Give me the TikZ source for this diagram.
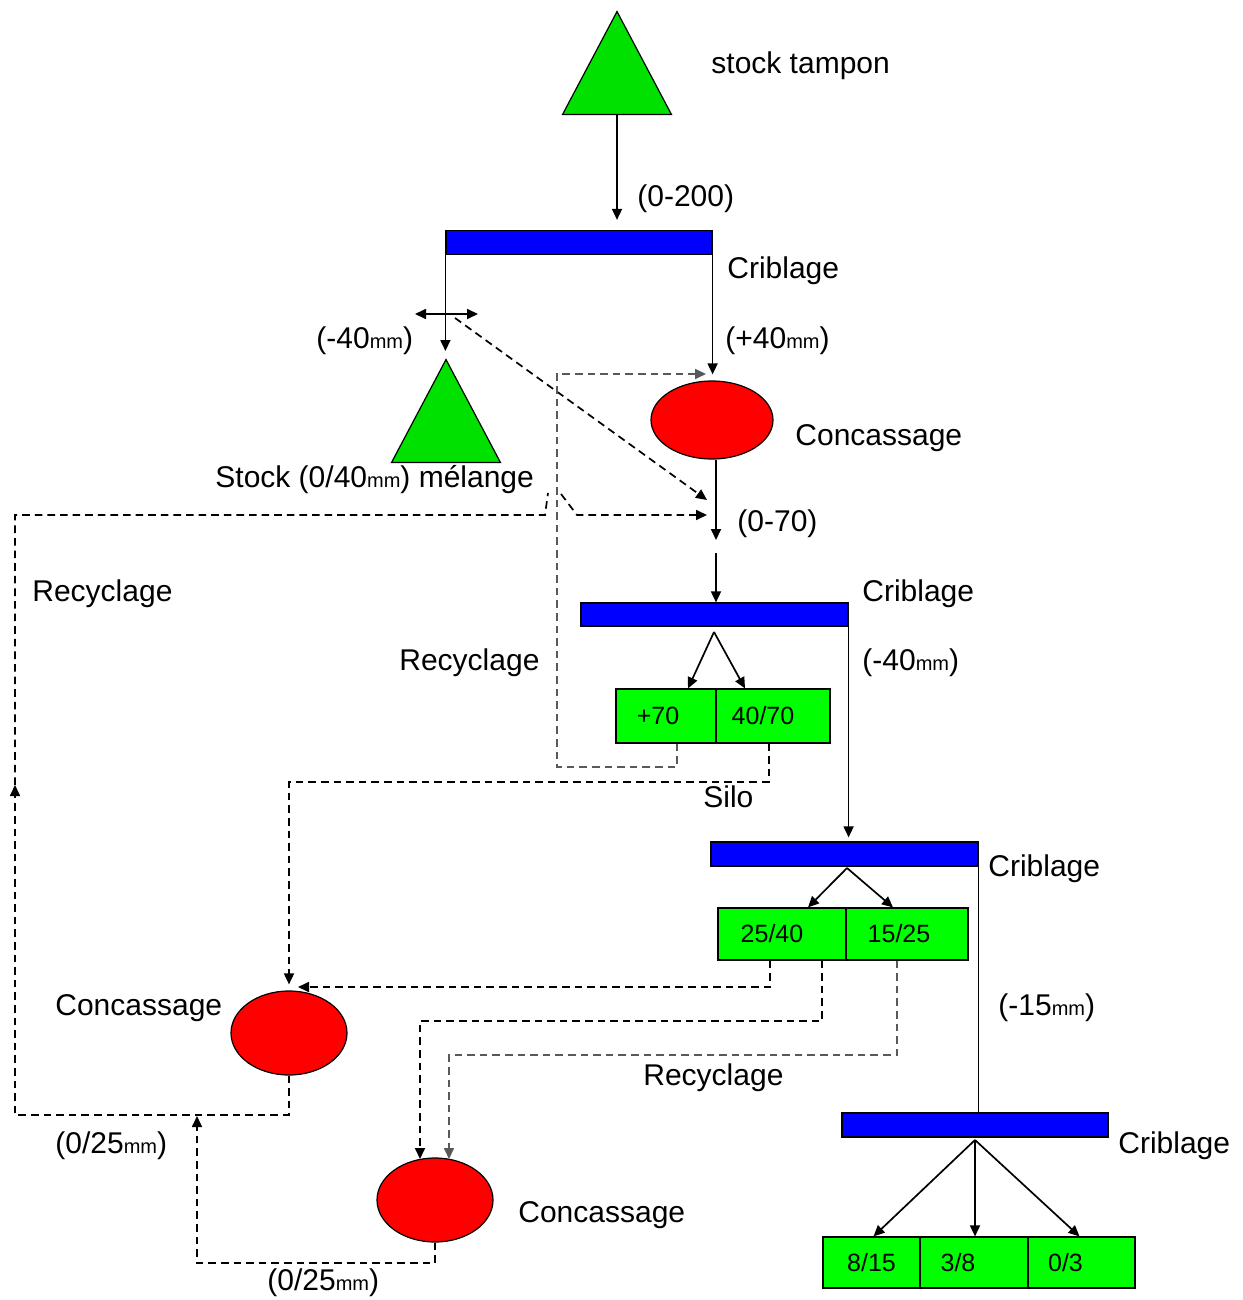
\documentclass[tikz,border=0pt]{standalone}
\usepackage{fontspec}
\setmainfont{Liberation Sans}
\usetikzlibrary{shapes.geometric,arrows.meta,calc}
\definecolor{tgreen}{RGB}{0,225,0}
\definecolor{bgreen}{RGB}{0,255,0}
\definecolor{bblue}{RGB}{0,0,255}
\definecolor{ered}{RGB}{255,0,0}
\newcommand\smm{{\fontsize{10}{10}\selectfont mm}}
\begin{document}
\begin{tikzpicture}[x=0.5pt,y=-0.5pt,
 tri/.style={isosceles triangle, isosceles triangle stretches, shape border rotate=90, draw, fill=tgreen, minimum width=54.5pt, minimum height=51.5pt, inner sep=0pt, line width=0.6pt},
 bar/.style={rectangle, draw, fill=bblue, minimum width=133pt, minimum height=12pt, inner sep=0pt, line width=0.6pt},
 ell/.style={ellipse, draw, fill=ered, inner sep=0pt, line width=0.6pt},
 box/.style={rectangle, draw, fill=bgreen, inner sep=0pt, line width=0.6pt, font=\fontsize{12.5}{13}\selectfont},
 lbl/.style={anchor=mid west, inner sep=0pt, yshift=-2.5pt, font=\fontsize{15}{16}\selectfont},
 tip/.style={-{Triangle[length=5.5pt,width=5pt]}},
 flow/.style={draw, line width=0.85pt, tip},
 dsh/.style={draw, line width=0.85pt, dash pattern=on 3.8pt off 2.5pt},
 dshg/.style={dsh, draw=black!65},
]
\useasboundingbox (0,0) rectangle (1242,1300);

% ---- nodes ----
\node[tri, anchor=apex] (t1) at (617,10) {};
\node[tri, anchor=apex] (t2) at (446,358) {};
\node[bar] (bar1) at (579,242.5) {};
\node[bar, minimum width=133.5pt, minimum height=11.5pt] (bar2) at (714.5,614.5) {};
\node[bar, minimum width=133.5pt] (bar3) at (844.5,854) {};
\node[bar] (bar4) at (975,1125) {};
\node[ell, minimum width=61pt, minimum height=39pt] (e1) at (712,420) {};
\node[ell, minimum width=58pt, minimum height=42pt] (e2) at (289,1033) {};
\node[ell, minimum width=58pt, minimum height=42pt] (e3) at (435,1200) {};
\node[box, minimum width=50pt, minimum height=27pt] (b70) at (666,716) {\hspace*{-8pt}+70};
\node[box, minimum width=57pt, minimum height=27pt] (b4070) at (773,716) {\hspace*{-10pt}40/70};
\node[box, minimum width=64pt, minimum height=26pt] (b2540) at (782,934) {\hspace*{-10pt}25/40};
\node[box, minimum width=61pt, minimum height=26pt] (b1525) at (907,934) {\hspace*{-8pt}15/25};
\node[box, minimum width=48.5pt, minimum height=25.5pt] (b815) at (871.5,1262.5) {8/15};
\node[box, minimum width=54pt, minimum height=25.5pt] (b38) at (974,1262.5) {\hspace*{-16pt}3/8};
\node[box, minimum width=53.5pt, minimum height=25.5pt] (b03) at (1081.5,1262.5) {\hspace*{-16pt}0/3};

% ---- labels ----
\node[lbl] (l1) at (711,63) {stock tampon};
\node[lbl] (l2) at (637,196) {(0-200)};
\node[lbl] (l3) at (727,268) {Criblage};
\node[lbl] (l4) at (316,338) {(-40\smm)};
\node[lbl] (l5) at (725,338) {(+40\smm)};
\node[lbl] (l6) at (795,435) {Concassage};
\node[lbl] (l7) at (215,477) {Stock (0/40\smm) mélange};
\node[lbl] (l8) at (737,521) {(0-70)};
\node[lbl] (l9) at (32,591) {Recyclage};
\node[lbl] (l10) at (862,591) {Criblage};
\node[lbl] (l11) at (399,660) {Recyclage};
\node[lbl] (l12) at (862,660) {(-40\smm)};
\node[lbl] (l13) at (703,797) {Silo};
\node[lbl] (l14) at (988,866) {Criblage};
\node[lbl] (l15) at (55,1005) {Concassage};
\node[lbl] (l16) at (998,1005) {(-15\smm)};
\node[lbl] (l17) at (643,1075) {Recyclage};
\node[lbl] (l18) at (55,1143) {(0/25\smm)};
\node[lbl] (l19) at (1118,1143) {Criblage};
\node[lbl] (l20) at (518,1212) {Concassage};
\node[lbl] (l21) at (267,1280) {(0/25\smm)};

% ---- coordinates ----
\coordinate (h1) at (415,314);
\coordinate (h2) at (478,314);
\coordinate (g1) at (455,318);
\coordinate (g2) at (707,500);
\coordinate (c1) at (716,540);
\coordinate (c2) at (716,553);
\coordinate (s2) at (714,632);
\coordinate (s3) at (847,868);
\coordinate (s4) at (975,1140);
\coordinate (k1) at (289,1115);
\coordinate (k2) at (15,1115);
\coordinate (k3) at (15,785);
\coordinate (k4) at (15,515);
\coordinate (k5) at (545,515);
\coordinate (k6) at (548,493);
\coordinate (k7) at (561,494);
\coordinate (k8) at (577,515);
\coordinate (k9) at (707,515);
\coordinate (m1) at (677,767);
\coordinate (m2) at (557,767);
\coordinate (m3) at (557,374);
\coordinate (m4) at (706,374);
\coordinate (n1) at (769,782);
\coordinate (n2) at (289,782);
\coordinate (p1) at (770,987);
\coordinate (p2) at (298,987);
\coordinate (q1) at (822,1021);
\coordinate (q2) at (420,1021);
\coordinate (q3) at (420,1159);
\coordinate (r1) at (897,1055);
\coordinate (r2) at (449,1055);
\coordinate (r3) at (449,1159);
\coordinate (u1) at (435,1263);
\coordinate (u2) at (197,1263);
\coordinate (u3) at (197,1116);

% ---- solid connectors ----
\draw[flow] (t1.lower side) -- ($(t1.lower side |- bar1.north)+(0,-10)$);
\draw[flow] (bar1.south west) -- ($(bar1.south west |- t2.apex)+(0,-7)$);
\draw[flow] (bar1.south east) -- ($(bar1.south east |- e1.north)+(0,-6)$);
\draw[line width=0.85pt, {Triangle[length=5.5pt,width=5pt]}-{Triangle[length=5.5pt,width=5pt]}] (h1) -- (h2);
\draw[flow] (e1.south -| c1) -- (c1);
\draw[flow] (c2) -- (c2 |- bar2.north);
\draw[flow] (s2) -- ($(b70.north)+(22,0)$);
\draw[flow] (s2) -- ($(b4070.north)+(-28,0)$);
\draw[flow] (bar2.south east) -- ($(bar2.south east |- bar3.north)+(0,-4)$);
\draw[flow] (s3) -- ($(b2540.north)+(26,0)$);
\draw[flow] (s3) -- ($(b1525.north)+(-14,0)$);
\draw[line width=0.85pt] (bar3.south east) -- (bar3.south east |- bar4.north);
\draw[flow] (s4) -- ($(b815.north)+(2,0)$);
\draw[flow] (s4) -- (s4 |- b38.north);
\draw[flow] (s4) -- ($(b03.north)+(-2,0)$);

% ---- dashed connectors ----
\draw[dsh, tip] (g1) -- (g2);
\draw[dsh, tip] (e2.south) -- (k1) -- (k2) -- (k3);
\draw[dsh, tip] (k3) -- (k4) -- (k5) -- (k6) (k7) -- (k8) -- (k9);
\draw[dshg, tip] (b70.south -| m1) -- (m1) -- (m2) -- (m3) -- (m4);
\draw[dsh, tip] (b4070.south -| n1) -- (n1) -- (n2) -- ($(e2.north)+(0,-6)$);
\draw[dsh, tip] (b2540.south -| p1) -- (p1) -- (p2);
\draw[dsh, tip] (b2540.south -| q1) -- (q1) -- (q2) -- (q3);
\draw[dshg, tip] (b1525.south -| r1) -- (r1) -- (r2) -- (r3);
\draw[dsh, tip] (e3.south) -- (u1) -- (u2) -- (u3);
\end{tikzpicture}
\end{document}
